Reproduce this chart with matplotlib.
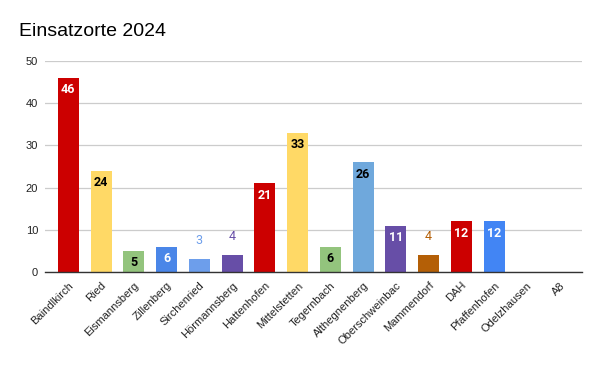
import matplotlib
matplotlib.use("Agg")
import matplotlib.pyplot as plt

categories = ["Baindlkirch", "Ried", "Eismannsberg", "Zillenberg", "Sirchenried",
              "Hörmannsberg", "Hattenhofen", "Mittelstetten", "Tegernbach",
              "Althegnenberg", "Oberschweinbac", "Mammendorf", "DAH",
              "Pfaffenhofen", "Odelzhausen", "A8"]
values = [46, 24, 5, 6, 3, 4, 21, 33, 6, 26, 11, 4, 12, 12, 0, 0]
colors = ["#cc0000", "#ffd966", "#93c47d", "#4a86e8", "#6d9eeb", "#674ea7",
          "#cc0000", "#ffd966", "#93c47d", "#6fa8dc", "#674ea7", "#b45f06",
          "#cc0000", "#4285f4", "#cccccc", "#cccccc"]
label_colors = ["#ffffff", "#000000", "#000000", "#ffffff", "#6d9eeb", "#674ea7",
                "#ffffff", "#000000", "#000000", "#000000", "#ffffff", "#b45f06",
                "#ffffff", "#ffffff", "#000000", "#000000"]
yticks = [0, 10, 20, 30, 40, 50]

plt.rcParams['font.family'] = ['Liberation Sans', 'DejaVu Sans']

fig = plt.figure(figsize=(6, 3.71), dpi=100)
ax = fig.add_axes([0.075, 0.267, 0.895, 0.569])

x = list(range(len(categories)))
ax.bar(x, values, width=0.64, color=colors, zorder=3)

for xi, v, lc in zip(x, values, label_colors):
    if v <= 0:
        continue
    if v >= 5:
        ax.annotate(str(v), (xi, v), xytext=(0, -12), textcoords='offset pixels',
                    ha='center', va='center', fontsize=9, fontweight='bold',
                    color=lc, family=['Roboto', 'DejaVu Sans'], zorder=4)
    else:
        ax.annotate(str(v), (xi, v), xytext=(0, 19), textcoords='offset pixels',
                    ha='center', va='center', fontsize=9,
                    color=lc, family=['Roboto', 'DejaVu Sans'], zorder=4)

ax.set_ylim(0, 50)
ax.set_xlim(-0.71, 15.68)
ax.set_yticks(yticks)
ax.set_yticklabels([str(t) for t in yticks], fontsize=8, color='#222222')
ax.yaxis.grid(True, color='#cccccc', linewidth=0.9, zorder=0)
ax.set_xticks(x)
ax.set_xticklabels(categories, rotation=45, ha='right', rotation_mode='anchor',
                   fontsize=8, color='#222222')
ax.tick_params(axis='both', length=0)
ax.tick_params(axis='y', pad=5)
ax.tick_params(axis='x', pad=6)
for s in ['top', 'right', 'left']:
    ax.spines[s].set_visible(False)
ax.spines['bottom'].set_color('#333333')
ax.spines['bottom'].set_linewidth(1.0)
ax.spines['bottom'].set_zorder(5)

fig.text(19 / 600, 1 - 32 / 371, "Einsatzorte 2024", fontsize=14, color='#000000',
         ha='left', va='center')

fig.savefig("out.png", dpi=100, facecolor='white')
